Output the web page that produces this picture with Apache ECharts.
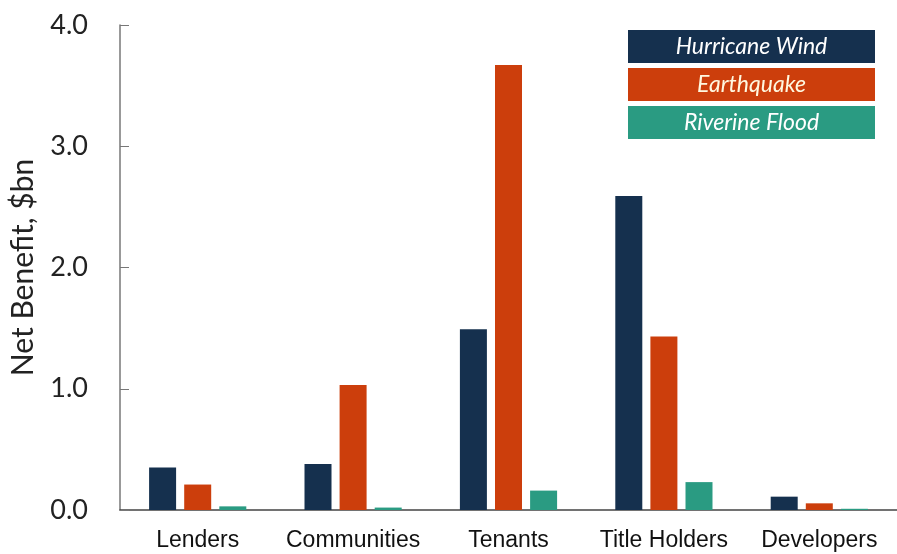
<!DOCTYPE html>
<html><head><meta charset="utf-8">
<script src="https://cdn.jsdelivr.net/npm/echarts@6/dist/echarts.min.js"></script>
<style>html,body{margin:0;padding:0;background:#fff}#c{width:897px;height:554px}</style>
</head><body><div id="c"></div>
<script>
const categories = ['Lenders', 'Communities', 'Tenants', 'Title Holders', 'Developers'];
const seriesNames = ['Hurricane Wind', 'Earthquake', 'Riverine Flood'];
const hurricaneWind = [0.35, 0.38, 1.49, 2.59, 0.11];
const earthquake = [0.21, 1.03, 3.67, 1.43, 0.055];
const riverineFlood = [0.03, 0.02, 0.16, 0.23, 0.01];
const yTicks = [0, 1, 2, 3, 4];
const colors = ['#15304e', '#cc3e0c', '#2a9b82'];
const values = [hurricaneWind, earthquake, riverineFlood];

const chart = echarts.init(document.getElementById('c'));
const legendGraphics = seriesNames.map((n, i) => ({
  type: 'group', left: 628, top: [30, 68, 106][i],
  children: [
    {type: 'rect', shape: {x: 0, y: 0, width: 247, height: 33}, style: {fill: colors[i]}},
    {type: 'text', x: 123.5, y: 17, style: {text: n, fill: i === 1 ? '#fff8e0' : '#fff', font: 'italic 23px Lato', align: 'center', verticalAlign: 'middle'}}
  ]
}));
chart.setOption({
  animation: false,
  grid: {left: 120, top: 25, bottom: 44, width: 782, containLabel: false},
  xAxis: {
    type: 'category', data: categories,
    axisLine: {lineStyle: {color: '#444', width: 1.5}},
    axisTick: {inside: true, length: 7, lineStyle: {color: '#555'}},
    axisLabel: {color: '#111', fontFamily: 'Liberation Sans', fontSize: 23, margin: 19, interval: 0, hideOverlap: false}
  },
  yAxis: {
    type: 'value', min: yTicks[0], max: yTicks[yTicks.length - 1], interval: 1,
    name: 'Net Benefit, $bn', nameLocation: 'middle', nameGap: 82,
    nameTextStyle: {fontFamily: 'Lato', fontSize: 30, color: '#222'},
    axisLine: {show: true, lineStyle: {color: '#777', width: 1.5}},
    axisTick: {show: true, inside: true, length: 9, lineStyle: {color: '#777'}},
    splitLine: {show: false},
    axisLabel: {color: '#222', fontFamily: 'Lato', fontSize: 27, margin: 32, formatter: v => v.toFixed(1)}
  },
  series: seriesNames.map((n, i) => ({
    name: n, type: 'bar', data: values[i], barWidth: 27, barGap: '30%',
    itemStyle: {color: colors[i]}
  })),
  graphic: legendGraphics
});
</script></body></html>
